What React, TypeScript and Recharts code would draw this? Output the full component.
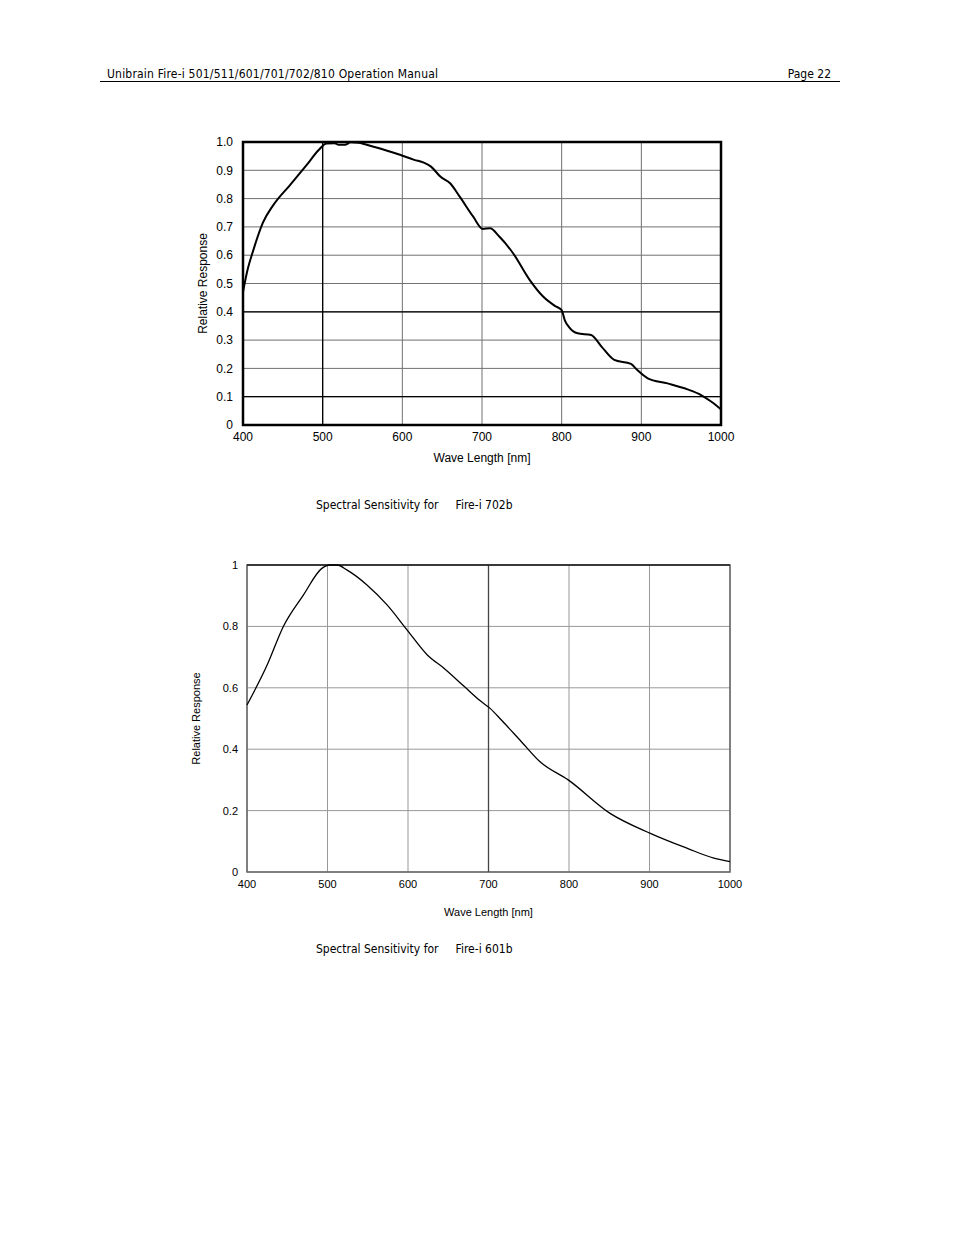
import React from "react";
import {
  LineChart,
  Line,
  XAxis,
  YAxis,
  CartesianGrid,
  ReferenceLine,
  ReferenceArea,
} from "recharts";

// Fire-i 702b curve
const wave702 = [400, 405, 413, 425, 438, 459, 480, 495, 505, 515, 520, 528, 535, 545, 564, 580, 598, 615, 627, 636, 648, 660, 672, 689, 701, 710, 722, 739, 760, 777, 792, 800, 804, 809, 820, 837, 850, 866, 887, 895, 908, 933, 958, 975, 988, 1000];
const resp702 = [0.47, 0.54, 0.618, 0.715, 0.777, 0.848, 0.919, 0.972, 0.995, 0.996, 0.99, 0.99, 0.999, 0.997, 0.983, 0.97, 0.954, 0.937, 0.927, 0.913, 0.877, 0.854, 0.807, 0.736, 0.693, 0.695, 0.665, 0.607, 0.512, 0.453, 0.42, 0.406, 0.37, 0.347, 0.324, 0.318, 0.277, 0.23, 0.216, 0.194, 0.165, 0.147, 0.126, 0.106, 0.082, 0.055];

// Fire-i 601b curve
const wave601 = [400, 425, 445, 470, 493, 503, 512, 524, 549, 574, 599, 624, 645, 670, 691, 702, 716, 739, 764, 799, 851, 901, 947, 980, 1000];
const resp601 = [0.544, 0.674, 0.799, 0.902, 0.989, 1.0, 1.0, 0.984, 0.935, 0.87, 0.788, 0.707, 0.663, 0.604, 0.555, 0.533, 0.495, 0.43, 0.359, 0.3, 0.191, 0.126, 0.077, 0.045, 0.034];

const xTicks = [400, 500, 600, 700, 800, 900, 1000];
const yTicks702 = [0, 0.1, 0.2, 0.3, 0.4, 0.5, 0.6, 0.7, 0.8, 0.9, 1.0];
const yTicks601 = [0, 0.2, 0.4, 0.6, 0.8, 1];

const FONT = "'Liberation Sans', Arial, sans-serif";
const HEAD_FONT = "'DejaVu Sans Condensed', 'Liberation Sans', sans-serif";

const data702 = wave702.map((w, i) => ({ wl: w, r: resp702[i] }));
const data601 = wave601.map((w, i) => ({ wl: w, r: resp601[i] }));

function Chart702() {
  return (
    <LineChart width={580} height={360} data={data702} margin={{ top: 22, right: 39, left: 13, bottom: 15 }}>
      <CartesianGrid stroke="#707070" strokeWidth={1} />
      <XAxis
        dataKey="wl"
        type="number"
        domain={[400, 1000]}
        ticks={xTicks}
        tickSize={0}
        tickMargin={7}
        axisLine={false}
        height={40}
        tick={{ fill: "#000", fontSize: 12, fontFamily: FONT }}
        label={{ value: "Wave Length [nm]", position: "insideBottom", offset: 3, fill: "#000", fontSize: 12, fontFamily: FONT }}
      />
      <YAxis
        type="number"
        domain={[0, 1]}
        ticks={yTicks702}
        tickFormatter={(v: number) => (v === 0 ? "0" : v.toFixed(1))}
        tickSize={0}
        tickMargin={10}
        axisLine={false}
        width={50}
        tick={{ fill: "#000", fontSize: 12, fontFamily: FONT }}
        label={{ value: "Relative Response", angle: -90, position: "insideLeft", offset: 10, style: { textAnchor: "middle" }, fill: "#000", fontSize: 12, fontFamily: FONT }}
      />
      <ReferenceLine x={500} stroke="#000" strokeWidth={1.3} />
      <ReferenceLine y={0.4} stroke="#000" strokeWidth={1.3} />
      <ReferenceLine y={0.1} stroke="#000" strokeWidth={1.3} />
      <Line type="monotone" dataKey="r" stroke="#000" strokeWidth={2} dot={false} isAnimationActive={false} />
      <ReferenceArea x1={400} x2={1000} y1={0} y2={1} fill="none" stroke="#000" strokeWidth={2.5} ifOverflow="visible" />
    </LineChart>
  );
}

function Chart601() {
  return (
    <LineChart width={580} height={390} data={data601} margin={{ top: 20, right: 30, left: 7, bottom: 18 }}>
      <CartesianGrid stroke="#999" strokeWidth={1} />
      <XAxis
        dataKey="wl"
        type="number"
        domain={[400, 1000]}
        ticks={xTicks}
        tickSize={0}
        tickMargin={8}
        axisLine={false}
        height={45}
        tick={{ fill: "#000", fontSize: 11, fontFamily: FONT }}
        label={{ value: "Wave Length [nm]", position: "insideBottom", offset: 1, fill: "#000", fontSize: 11, fontFamily: FONT }}
      />
      <YAxis
        type="number"
        domain={[0, 1]}
        ticks={yTicks601}
        tickSize={0}
        tickMargin={9}
        axisLine={false}
        width={60}
        tick={{ fill: "#000", fontSize: 11, fontFamily: FONT }}
        label={{ value: "Relative Response", angle: -90, position: "insideLeft", offset: 9, style: { textAnchor: "middle" }, fill: "#000", fontSize: 11, fontFamily: FONT }}
      />
      <ReferenceLine x={700} stroke="#444" strokeWidth={1.3} />
      <ReferenceArea x1={400} x2={1000} y1={0} y2={1} fill="none" stroke="#666" strokeWidth={1.5} ifOverflow="visible" />
      <ReferenceLine y={1} stroke="#222" strokeWidth={1.5} />
      <Line type="monotone" dataKey="r" stroke="#000" strokeWidth={1.3} dot={false} isAnimationActive={false} />
    </LineChart>
  );
}

const caption: React.CSSProperties = {
  position: "absolute",
  left: 316,
  fontFamily: HEAD_FONT,
  fontSize: 12,
  color: "#000",
  whiteSpace: "pre",
  lineHeight: "14px",
};

export default function App() {
  return (
    <div style={{ position: "absolute", left: 0, top: 0, width: 954, height: 1235, background: "#fff" }}>
      <div style={{ position: "absolute", left: 107, top: 67, fontFamily: HEAD_FONT, fontSize: 12, lineHeight: "14px", letterSpacing: 0.2, whiteSpace: "pre" }}>
        Unibrain Fire-i 501/511/601/701/702/810 Operation Manual
      </div>
      <div style={{ position: "absolute", right: 954 - 831, top: 67, fontFamily: HEAD_FONT, fontSize: 12, lineHeight: "14px", whiteSpace: "pre" }}>
        Page 22
      </div>
      <div style={{ position: "absolute", left: 100, top: 81, width: 740, height: 1, background: "#000" }} />

      <div style={{ position: "absolute", left: 180, top: 120 }}>
        <Chart702 />
      </div>
      <div style={{ ...caption, top: 498 }}>{"Spectral Sensitivity for     Fire-i 702b"}</div>

      <div style={{ position: "absolute", left: 180, top: 545 }}>
        <Chart601 />
      </div>
      <div style={{ ...caption, top: 942 }}>{"Spectral Sensitivity for     Fire-i 601b"}</div>
    </div>
  );
}
